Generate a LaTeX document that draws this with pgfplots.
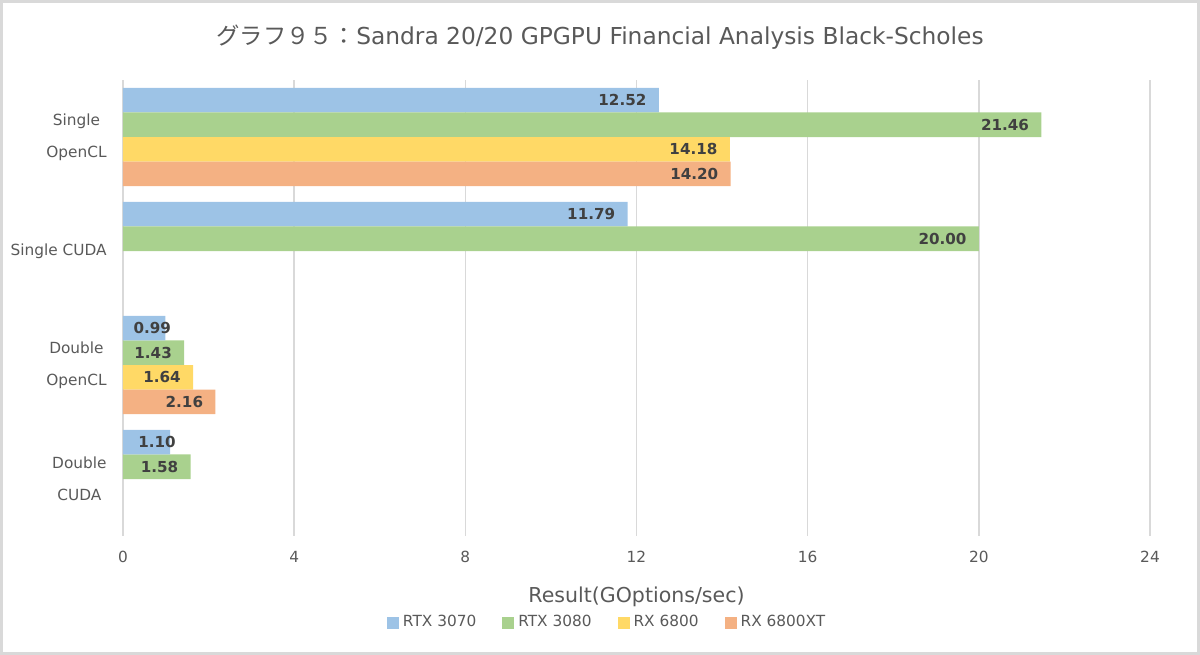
\documentclass[border=0pt]{standalone}
\usepackage{fontspec}
\setmainfont{DejaVu Sans}
\newfontfamily\cjk{Noto Sans CJK JP}
\usepackage{pgfplots}
\pgfplotsset{compat=1.18}
\definecolor{c1}{HTML}{9DC3E6}
\definecolor{c2}{HTML}{A9D18E}
\definecolor{c3}{HTML}{FFD966}
\definecolor{c4}{HTML}{F4B183}
\definecolor{txt}{HTML}{595959}
\definecolor{lbl}{HTML}{404040}
\definecolor{gridc}{HTML}{D9D9D9}
\begin{document}
\begin{tikzpicture}
\begin{axis}[
  scale only axis, width=513.5bp, height=228bp,
  xbar,
  xmin=0, xmax=24, ymin=-0.5, ymax=3.5, y dir=reverse,
  xtick={0,4,...,24}, ytick={0,1,2,3},
  yticklabels={{Single\\OpenCL},{Single CUDA},{Double\\OpenCL},{Double\\CUDA}},
  axis line style={draw=none},
  tick style={draw=none}, major tick length=0pt,
  xmajorgrids, ymajorgrids=false,
  grid style={color=gridc, line width=0.75bp},
  ticklabel style={font=\fontsize{7.7}{16}\selectfont, text=txt},
  yticklabel style={align=center, inner sep=0pt},
  yticklabel shift=8bp,
  xticklabel style={inner sep=0pt},
  xticklabel shift=7.5bp,
  /pgf/number format/assume math mode=true,
  bar width=0.215,
  nodes near coords={\pgfmathprintnumber[fixed,fixed zerofill,precision=2]{\pgfplotspointmeta}},
  nodes near coords style={anchor=east, xshift=-6bp, font=\fontsize{7.6}{9}\selectfont\bfseries, text=lbl, inner sep=0pt},
  xlabel={Result(GOptions/sec)},
  xlabel style={font=\fontsize{10.3}{12}\selectfont, text=txt, at={(axis description cs:0.5,-0.1335)}, anchor=center},
  legend columns=4,
  legend style={at={(axis description cs:0.4724,-0.1900)}, anchor=center, draw=none, fill=none,
    font=\fontsize{7.7}{9}\selectfont, text=txt,
    /tikz/every even column/.append style={column sep=11bp}},
  legend image code/.code={\fill[#1] (0bp,-3bp) rectangle (6bp,3bp);},
  clip=false,
]
\addplot[fill=c1, draw=none, bar shift=-0.3225] coordinates {(12.52,0) (11.79,1)};
\addplot[fill=c2, draw=none, bar shift=-0.1075] coordinates {(21.46,0) (20.00,1) (1.43,2) (1.58,3)};
\addplot[fill=c3, draw=none, bar shift=0.1075] coordinates {(14.18,0) (1.64,2)};
\addplot[fill=c4, draw=none, bar shift=0.3225] coordinates {(14.20,0) (2.16,2)};
\addplot[fill=c1, draw=none, bar shift=-0.3225, forget plot,
  nodes near coords style={xshift=9bp}] coordinates {(0.99,2) (1.10,3)};
\legend{RTX 3070, RTX 3080, RX 6800, RX 6800XT}
\end{axis}
\node[font=\fontsize{11.7}{14}\selectfont, text=txt] at (238.5bp,249.3bp) {{\cjk グラフ９５：}Sandra 20/20 GPGPU Financial Analysis Black-Scholes};
\draw[gridc, line width=1.5bp] (-60.75bp,-58.75bp) rectangle (537.75bp,267.25bp);
\end{tikzpicture}
\end{document}
